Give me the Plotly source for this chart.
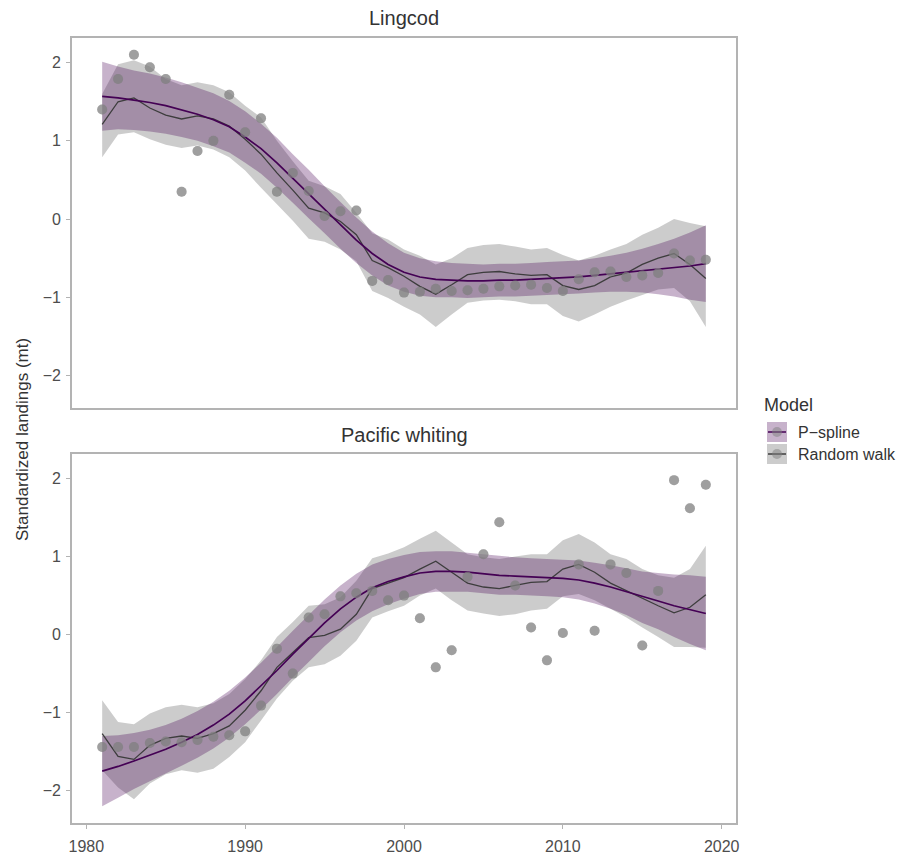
import plotly.graph_objects as go

years = list(range(1981, 2020))

# ---- Lingcod ----
ling_obs = [1.40, 1.79, 2.10, 1.94, 1.79, 0.35, 0.87, 1.00, 1.59, 1.11, 1.29, 0.35, 0.59, 0.36, 0.04, 0.10, 0.11,
            -0.79, -0.78, -0.94, -0.93, -0.89, -0.92, -0.91, -0.89, -0.86, -0.85, -0.84, -0.88, -0.92, -0.77,
            -0.68, -0.67, -0.74, -0.72, -0.69, -0.44, -0.53, -0.52]
ling_ps_mean = [1.57, 1.55, 1.52, 1.49, 1.45, 1.40, 1.34, 1.27, 1.18, 1.05, 0.90, 0.72, 0.52, 0.32, 0.12, -0.08,
                -0.27, -0.44, -0.58, -0.68, -0.74, -0.77, -0.78, -0.79, -0.79, -0.78, -0.78, -0.77, -0.76, -0.75,
                -0.74, -0.72, -0.70, -0.68, -0.66, -0.64, -0.62, -0.60, -0.57]
ling_ps_upper = [2.01, 1.95, 1.90, 1.86, 1.81, 1.75, 1.68, 1.61, 1.51, 1.38, 1.22, 1.04, 0.83, 0.63, 0.42, 0.22,
                 0.02, -0.16, -0.31, -0.43, -0.50, -0.54, -0.56, -0.57, -0.58, -0.57, -0.57, -0.56, -0.55, -0.54,
                 -0.53, -0.50, -0.47, -0.43, -0.38, -0.32, -0.25, -0.17, -0.08]
ling_ps_lower = [1.13, 1.15, 1.14, 1.12, 1.09, 1.05, 1.00, 0.93, 0.85, 0.72, 0.58, 0.40, 0.21, 0.01, -0.18, -0.38,
                 -0.56, -0.72, -0.85, -0.93, -0.98, -1.00, -1.00, -1.01, -1.00, -0.99, -0.99, -0.98, -0.97, -0.96,
                 -0.95, -0.94, -0.93, -0.93, -0.94, -0.96, -0.99, -1.03, -1.06]
ling_rw_mean = [1.21, 1.50, 1.55, 1.42, 1.33, 1.28, 1.32, 1.28, 1.19, 1.02, 0.83, 0.59, 0.37, 0.14, 0.08, -0.03,
                -0.20, -0.53, -0.62, -0.73, -0.86, -0.96, -0.84, -0.71, -0.68, -0.67, -0.70, -0.72, -0.71, -0.85,
                -0.90, -0.85, -0.74, -0.69, -0.58, -0.50, -0.44, -0.58, -0.76]
ling_rw_upper = [1.60, 1.98, 2.03, 1.95, 1.79, 1.71, 1.75, 1.71, 1.62, 1.45, 1.30, 1.00, 0.74, 0.49, 0.42, 0.32,
                 0.08, -0.18, -0.26, -0.39, -0.47, -0.58, -0.50, -0.37, -0.33, -0.32, -0.35, -0.39, -0.37, -0.46,
                 -0.53, -0.47, -0.39, -0.32, -0.20, -0.11, 0.00, -0.05, -0.09]
ling_rw_lower = [0.79, 1.08, 1.11, 1.02, 0.95, 0.91, 0.94, 0.89, 0.79, 0.62, 0.40, 0.19, -0.02, -0.25, -0.29, -0.39,
                 -0.54, -0.92, -1.01, -1.12, -1.22, -1.38, -1.22, -1.07, -1.04, -1.03, -1.05, -1.09, -1.09, -1.24,
                 -1.31, -1.22, -1.12, -1.04, -0.97, -0.90, -0.88, -1.05, -1.38]

# ---- Pacific whiting ----
whit_obs = [-1.44, -1.44, -1.44, -1.39, -1.37, -1.38, -1.35, -1.31, -1.29, -1.24, -0.91, -0.18, -0.50, 0.22, 0.26,
            0.49, 0.53, 0.56, 0.44, 0.50, 0.21, -0.42, -0.20, 0.74, 1.03, 1.44, 0.63, 0.09, -0.33, 0.02, 0.90, 0.05,
            0.90, 0.79, -0.14, 0.56, 1.98, 1.62, 1.92]
whit_ps_mean = [-1.75, -1.69, -1.62, -1.55, -1.47, -1.38, -1.28, -1.16, -1.02, -0.85, -0.66, -0.46, -0.25, -0.05,
                0.15, 0.33, 0.48, 0.60, 0.68, 0.74, 0.79, 0.81, 0.81, 0.80, 0.78, 0.76, 0.75, 0.74, 0.73, 0.72,
                0.70, 0.66, 0.61, 0.55, 0.48, 0.43, 0.37, 0.32, 0.27]
whit_ps_upper = [-1.30, -1.29, -1.26, -1.22, -1.16, -1.08, -0.98, -0.86, -0.72, -0.55, -0.36, -0.16, 0.05, 0.25,
                 0.45, 0.63, 0.78, 0.90, 0.97, 1.02, 1.06, 1.07, 1.07, 1.05, 1.03, 1.01, 0.99, 0.98, 0.97, 0.96,
                 0.95, 0.92, 0.89, 0.85, 0.81, 0.79, 0.77, 0.76, 0.74]
whit_ps_lower = [-2.20, -2.09, -1.98, -1.88, -1.78, -1.68, -1.58, -1.46, -1.32, -1.15, -0.96, -0.76, -0.55, -0.35,
                 -0.15, 0.03, 0.18, 0.30, 0.39, 0.46, 0.52, 0.55, 0.55, 0.55, 0.53, 0.51, 0.51, 0.50, 0.49, 0.48,
                 0.45, 0.40, 0.33, 0.25, 0.15, 0.07, -0.03, -0.12, -0.20]
whit_rw_mean = [-1.27, -1.56, -1.60, -1.42, -1.33, -1.30, -1.33, -1.27, -1.17, -0.97, -0.72, -0.42, -0.23, -0.04,
                -0.01, 0.07, 0.26, 0.59, 0.66, 0.73, 0.84, 0.94, 0.80, 0.66, 0.61, 0.59, 0.63, 0.67, 0.68, 0.84,
                0.90, 0.80, 0.66, 0.56, 0.46, 0.37, 0.28, 0.35, 0.51]
whit_rw_upper = [-0.84, -1.12, -1.15, -1.01, -0.93, -0.90, -0.93, -0.88, -0.76, -0.57, -0.33, -0.03, 0.16, 0.37,
                 0.39, 0.48, 0.69, 0.98, 1.04, 1.12, 1.23, 1.33, 1.18, 1.03, 0.99, 0.97, 1.00, 1.03, 1.03, 1.21,
                 1.29, 1.18, 1.03, 0.97, 0.84, 0.76, 0.73, 0.84, 1.14]
whit_rw_lower = [-1.74, -1.96, -2.11, -1.91, -1.79, -1.74, -1.77, -1.72, -1.57, -1.38, -1.10, -0.82, -0.59, -0.42,
                 -0.38, -0.27, -0.08, 0.22, 0.30, 0.37, 0.50, 0.59, 0.44, 0.31, 0.27, 0.24, 0.26, 0.31, 0.33, 0.49,
                 0.52, 0.44, 0.33, 0.22, 0.09, -0.03, -0.16, -0.16, -0.17]

panels = ["Lingcod", "Pacific whiting"]
models = ["P\u2212spline", "Random walk"]
x_ticks = [1980, 1990, 2000, 2010, 2020]
y_ticks = [-2, -1, 0, 1, 2]

PS_FILL = "rgba(68,1,84,0.30)"
RW_FILL = "rgba(0,0,0,0.20)"
PS_LINE = "#440154"
RW_LINE = "#3d3d3d"
PT_COL = "rgba(128,128,128,0.5)"
FRAME = "#b3b3b3"
FONT = "Liberation Sans, Arial, sans-serif"

W, H = 912, 855
ML, MR, MT, MB = 72, 176, 38, 32
PW, PH = W - ML - MR, H - MT - MB


def px(xp):
    return (xp - ML) / PW


def py(yp):
    return (H - MB - yp) / PH


fig = go.Figure()

data = [
    ("x", "y", ling_obs, ling_ps_mean, ling_ps_upper, ling_ps_lower, ling_rw_mean, ling_rw_upper, ling_rw_lower),
    ("x2", "y2", whit_obs, whit_ps_mean, whit_ps_upper, whit_ps_lower, whit_rw_mean, whit_rw_upper, whit_rw_lower),
]

for xa, ya, obs, psm, psu, psl, rwm, rwu, rwl in data:
    poly_x = years + years[::-1]
    fig.add_trace(go.Scatter(x=poly_x, y=rwu + rwl[::-1], fill="toself", fillcolor=RW_FILL,
                             mode="none", hoverinfo="skip", showlegend=False, xaxis=xa, yaxis=ya))
    fig.add_trace(go.Scatter(x=poly_x, y=psu + psl[::-1], fill="toself", fillcolor=PS_FILL,
                             mode="none", hoverinfo="skip", showlegend=False, xaxis=xa, yaxis=ya))
    fig.add_trace(go.Scatter(x=years, y=rwm, mode="lines", line=dict(color=RW_LINE, width=1.3),
                             showlegend=False, xaxis=xa, yaxis=ya))
    fig.add_trace(go.Scatter(x=years, y=psm, mode="lines", line=dict(color=PS_LINE, width=1.7),
                             showlegend=False, xaxis=xa, yaxis=ya))
    for _ in range(2):
        fig.add_trace(go.Scatter(x=years, y=obs, mode="markers",
                                 marker=dict(color=PT_COL, size=10, line=dict(width=0)),
                                 showlegend=False, xaxis=xa, yaxis=ya))

top_dom = [py(408), 1.0]
bot_dom = [0.0, py(454)]
xr = [1979.1, 2020.9]
yr = [-2.415, 2.315]

TICKFONT = dict(size=16, color="#4d4d4d")

common_x = dict(range=xr, showgrid=False, zeroline=False, showline=True, mirror=True, automargin=False,
                linecolor=FRAME, linewidth=1.6, tickvals=x_ticks, domain=[0, 1])
common_y = dict(range=yr, showgrid=False, zeroline=False, showline=True, mirror=True, automargin=False,
                linecolor=FRAME, linewidth=1.6, tickvals=y_ticks, ticks="outside", ticklen=4,
                tickcolor=FRAME, tickwidth=1, tickfont=TICKFONT, ticklabelstandoff=2)

fig.update_layout(
    width=W, height=H,
    margin=dict(l=ML, r=MR, t=MT, b=MB, pad=0, autoexpand=False),
    paper_bgcolor="white", plot_bgcolor="white",
    font=dict(family=FONT, color="#4d4d4d"),
    showlegend=False,
    xaxis=dict(**common_x, anchor="y", showticklabels=False, ticks=""),
    yaxis=dict(**common_y, domain=top_dom, anchor="x"),
    xaxis2=dict(**common_x, anchor="y2", ticks="outside", ticklen=4, tickcolor=FRAME, tickwidth=1,
                tickfont=TICKFONT, ticklabelstandoff=4),
    yaxis2=dict(**common_y, domain=bot_dom, anchor="x2"),
)

ann = []
ann.append(dict(text=panels[0], x=0.5, y=py(18), xref="paper", yref="paper", showarrow=False,
                font=dict(size=20, color="#333333"), xanchor="center", yanchor="middle"))
ann.append(dict(text=panels[1], x=0.5, y=py(435), xref="paper", yref="paper", showarrow=False,
                font=dict(size=20, color="#333333"), xanchor="center", yanchor="middle"))
ann.append(dict(text="Standardized landings (mt)", x=px(22), y=py(440), xref="paper", yref="paper",
                showarrow=False, textangle=-90, font=dict(size=17, color="#333333"),
                xanchor="center", yanchor="middle"))
# legend
ann.append(dict(text="Model", x=px(762), y=py(405), xref="paper", yref="paper", showarrow=False,
                font=dict(size=18, color="#333333"), xanchor="left", yanchor="middle"))

shapes = []
key_fills = [PS_FILL, RW_FILL]
key_lines = [PS_LINE, RW_LINE]
key_tops = [422, 444]
for i, m in enumerate(models):
    t = key_tops[i]
    b = t + 20
    shapes.append(dict(type="rect", xref="paper", yref="paper", x0=px(767), x1=px(787), y0=py(b), y1=py(t),
                       fillcolor=key_fills[i], line=dict(width=0)))
    cy = (t + b) / 2
    shapes.append(dict(type="line", xref="paper", yref="paper", x0=px(768), x1=px(786), y0=py(cy), y1=py(cy),
                       line=dict(color=key_lines[i], width=1.5)))
    shapes.append(dict(type="circle", xref="paper", yref="paper", x0=px(772), x1=px(782), y0=py(cy + 5),
                       y1=py(cy - 5), fillcolor=PT_COL, line=dict(width=0)))
    ann.append(dict(text=m, x=px(796), y=py(cy), xref="paper", yref="paper", showarrow=False,
                    font=dict(size=16, color="#333333"), xanchor="left", yanchor="middle"))

fig.update_layout(annotations=ann, shapes=shapes)
fig.write_html("out.html")
